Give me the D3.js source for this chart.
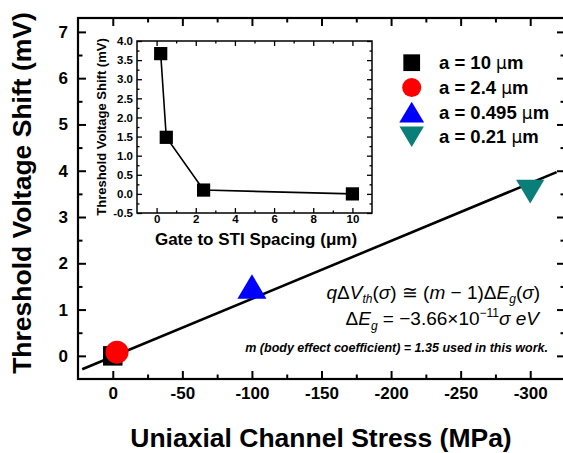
<!DOCTYPE html>
<html>
<head>
<meta charset="utf-8">
<script src="https://cdn.jsdelivr.net/npm/d3@7/dist/d3.min.js"></script>
<style>
  html, body { margin: 0; padding: 0; background: #fff; }
  svg { display: block; font-family: "Liberation Sans", Arial, Helvetica, sans-serif; }
</style>
</head>
<body>
<svg id="chart" width="563" height="453"></svg>
<script>
// ---- main plot data: threshold voltage shift vs. uniaxial channel stress ----
const seriesLabels = ["a = 10 ", "a = 2.4 ", "a = 0.495 ", "a = 0.21 "];
const seriesStress = [0, -3, -100, -300];          // MPa
const seriesShift  = [0.0, 0.08, 1.5, 3.55];        // mV
const seriesColors = ["#000000", "#ff0000", "#0000ff", "#0a7f7a"];
const seriesShapes = ["square", "circle", "triUp", "triDown"];

// linear model line (endpoints)
const fitStress = [22, -319];
const fitShift  = [-0.29, 3.97];

// main axis ticks
const xMajorTicks = [0, -50, -100, -150, -200, -250, -300];
const xMinorTicks = [-25, -75, -125, -175, -225, -275];
const yMajorTicks = [0, 1, 2, 3, 4, 5, 6, 7];
const yMinorTicks = [0.5, 1.5, 2.5, 3.5, 4.5, 5.5, 6.5];

// ---- inset data: shift vs. gate-to-STI spacing ----
const insetSpacing = [0.21, 0.495, 2.4, 10];        // um
const insetShift   = [3.67, 1.48, 0.1, 0.0];        // mV
const insetXTicks  = [0, 2, 4, 6, 8, 10];
const insetXMinor  = [1, 3, 5, 7, 9];
const insetYTicks  = [-0.5, 0, 0.5, 1, 1.5, 2, 2.5, 3, 3.5, 4];
const insetYMinor  = [-0.25, 0.25, 0.75, 1.25, 1.75, 2.25, 2.75, 3.25, 3.75];

const svg = d3.select("#chart");

// triangle symbols centred on their bounding box
const triUp = {
  draw(ctx, size) {
    const w = Math.sqrt(size * 2 / 0.84), h = w * 0.84;
    ctx.moveTo(0, -h / 2); ctx.lineTo(w / 2, h / 2); ctx.lineTo(-w / 2, h / 2); ctx.closePath();
  }
};
const triDown = {
  draw(ctx, size) {
    const w = Math.sqrt(size * 2 / 0.84), h = w * 0.84;
    ctx.moveTo(0, h / 2); ctx.lineTo(w / 2, -h / 2); ctx.lineTo(-w / 2, -h / 2); ctx.closePath();
  }
};
const shapeTypes = { square: d3.symbolSquare, circle: d3.symbolCircle, triUp: triUp, triDown: triDown };

// ---------------- main plot ----------------
const M = { left: 78, top: 18, right: 565, bottom: 379 };
const x = d3.scaleLinear().domain([25, -325]).range([M.left, M.right]);
const y = d3.scaleLinear().domain([-0.5, 7.3]).range([M.bottom, M.top]);

function ticks(g, axisFn, scale, values, size) {
  g.call(axisFn(scale).tickValues(values).tickSize(-size).tickSizeOuter(0).tickFormat(""))
   .call(s => s.select(".domain").remove())
   .selectAll("line").attr("stroke", "#000").attr("stroke-width", 2);
}

// bottom axis with labels
const gxb = svg.append("g").attr("transform", `translate(0,${M.bottom})`);
gxb.call(d3.axisBottom(x).tickValues(xMajorTicks).tickSize(-8).tickSizeOuter(0).tickPadding(8)
    .tickFormat(d => d === 0 ? "0" : d3.format("d")(d).replace("−", "-")))
  .call(s => s.select(".domain").remove());
gxb.selectAll("line").attr("stroke", "#000").attr("stroke-width", 2);
gxb.selectAll("text").attr("font-size", 17).attr("font-weight", "bold").attr("fill", "#000")
  .attr("font-family", "Liberation Sans, Arial, sans-serif");
ticks(svg.append("g").attr("transform", `translate(0,${M.bottom})`), d3.axisBottom, x, xMinorTicks, 4.5);

// left axis with labels
const gyl = svg.append("g").attr("transform", `translate(${M.left},0)`);
gyl.call(d3.axisLeft(y).tickValues(yMajorTicks).tickSize(-8).tickSizeOuter(0).tickPadding(10).tickFormat(d3.format("d")))
  .call(s => s.select(".domain").remove());
gyl.selectAll("line").attr("stroke", "#000").attr("stroke-width", 2);
gyl.selectAll("text").attr("font-size", 17).attr("font-weight", "bold").attr("fill", "#000")
  .attr("font-family", "Liberation Sans, Arial, sans-serif");
ticks(svg.append("g").attr("transform", `translate(${M.left},0)`), d3.axisLeft, y, yMinorTicks, 4.5);

// mirrored top / right ticks
ticks(svg.append("g").attr("transform", `translate(0,${M.top})`), d3.axisTop, x, xMajorTicks, 8);
ticks(svg.append("g").attr("transform", `translate(0,${M.top})`), d3.axisTop, x, xMinorTicks, 4.5);
ticks(svg.append("g").attr("transform", `translate(${M.right},0)`), d3.axisRight, y, yMajorTicks, 8);
ticks(svg.append("g").attr("transform", `translate(${M.right},0)`), d3.axisRight, y, yMinorTicks, 4.5);

// frame
svg.append("rect").attr("x", M.left).attr("y", M.top)
  .attr("width", M.right - M.left).attr("height", M.bottom - M.top)
  .attr("fill", "none").attr("stroke", "#000").attr("stroke-width", 2.2);

// axis titles
svg.append("text").attr("x", 321).attr("y", 447).attr("text-anchor", "middle")
  .attr("font-size", 26.5).attr("font-weight", "bold").text("Uniaxial Channel Stress (MPa)");
svg.append("text").attr("transform", "translate(31,193) rotate(-90)").attr("text-anchor", "middle")
  .attr("font-size", 26.5).attr("font-weight", "bold").text("Threshold Voltage Shift (mV)");

// fit line
const fitPts = fitStress.map((s, i) => [s, fitShift[i]]);
svg.append("path").datum(fitPts)
  .attr("d", d3.line().x(d => x(d[0])).y(d => y(d[1])))
  .attr("fill", "none").attr("stroke", "#000").attr("stroke-width", 2.6);

// data markers
const markerSizes = [380, 415, 355, 335];
svg.append("g").selectAll("path").data(seriesStress).join("path")
  .attr("transform", (d, i) => `translate(${x(d)},${y(seriesShift[i])})`)
  .attr("d", (d, i) => d3.symbol().type(shapeTypes[seriesShapes[i]]).size(markerSizes[i])())
  .attr("fill", (d, i) => seriesColors[i]);

// legend
const legendSizes = [280, 285, 260, 250];
const lg = svg.append("g");
seriesLabels.forEach((lab, i) => {
  const cy = 62.7 + i * 24.7;
  lg.append("path").attr("transform", `translate(411.7,${cy})`)
    .attr("d", d3.symbol().type(shapeTypes[seriesShapes[i]]).size(legendSizes[i])())
    .attr("fill", seriesColors[i]);
  const t = lg.append("text").attr("x", 439).attr("y", cy + 6.5)
    .attr("font-size", 18.5).attr("font-weight", "bold");
  t.append("tspan").text(lab);
  t.append("tspan").attr("font-weight", "normal").attr("font-family", "DejaVu Sans, sans-serif").attr("font-size", 17).text("μ");
  t.append("tspan").text("m");
});

// equations
const eq1 = svg.append("text").attr("x", 540).attr("y", 299).attr("text-anchor", "end")
  .attr("font-size", 19).attr("font-family", "Liberation Sans, Arial, sans-serif");
eq1.append("tspan").attr("font-style", "italic").text("q");
eq1.append("tspan").text("Δ");
eq1.append("tspan").attr("font-style", "italic").text("V");
eq1.append("tspan").attr("font-style", "italic").attr("font-size", 12).attr("dy", 4).text("th");
eq1.append("tspan").attr("dy", -4).text("(");
eq1.append("tspan").attr("font-style", "italic").text("σ");
eq1.append("tspan").text(") ≅ (");
eq1.append("tspan").attr("font-style", "italic").text("m");
eq1.append("tspan").text(" − 1)Δ");
eq1.append("tspan").attr("font-style", "italic").text("E");
eq1.append("tspan").attr("font-style", "italic").attr("font-size", 12).attr("dy", 4).text("g");
eq1.append("tspan").attr("dy", -4).text("(");
eq1.append("tspan").attr("font-style", "italic").text("σ");
eq1.append("tspan").text(")");

const eq2 = svg.append("text").attr("x", 539).attr("y", 325).attr("text-anchor", "end")
  .attr("font-size", 19).attr("font-family", "Liberation Sans, Arial, sans-serif");
eq2.append("tspan").text("Δ");
eq2.append("tspan").attr("font-style", "italic").text("E");
eq2.append("tspan").attr("font-style", "italic").attr("font-size", 12).attr("dy", 5).text("g");
eq2.append("tspan").attr("dy", -5).text(" = −3.66×10");
eq2.append("tspan").attr("font-size", 12).attr("dy", -8).text("−11");
eq2.append("tspan").attr("dy", 8).attr("font-style", "italic").text("σ eV");

svg.append("text").attr("x", 548).attr("y", 352).attr("text-anchor", "end")
  .attr("font-size", 12.5).attr("font-weight", "bold").attr("font-style", "italic")
  .text("m (body effect coefficient) = 1.35 used in this work.");

// ---------------- inset ----------------
const I = { left: 137, top: 41, right: 372, bottom: 213 };
const xi = d3.scaleLinear().domain([-1, 11]).range([I.left, I.right]);
const yi = d3.scaleLinear().domain([-0.5, 4.0]).range([I.bottom, I.top]);

svg.append("rect").attr("x", I.left).attr("y", I.top)
  .attr("width", I.right - I.left).attr("height", I.bottom - I.top).attr("fill", "#fff");

function iticks(g, axisFn, scale, values, size) {
  g.call(axisFn(scale).tickValues(values).tickSize(-size).tickSizeOuter(0).tickFormat(""))
   .call(s => s.select(".domain").remove())
   .selectAll("line").attr("stroke", "#000").attr("stroke-width", 1.3);
}

const gxi = svg.append("g").attr("transform", `translate(0,${I.bottom})`);
gxi.call(d3.axisBottom(xi).tickValues(insetXTicks).tickSize(-5).tickSizeOuter(0).tickPadding(2).tickFormat(d3.format("d")))
  .call(s => s.select(".domain").remove());
gxi.selectAll("line").attr("stroke", "#000").attr("stroke-width", 1.3);
gxi.selectAll("text").attr("font-size", 11.5).attr("font-weight", "bold").attr("fill", "#000")
  .attr("font-family", "Liberation Sans, Arial, sans-serif");
iticks(svg.append("g").attr("transform", `translate(0,${I.bottom})`), d3.axisBottom, xi, insetXMinor, 2.5);

const gyi = svg.append("g").attr("transform", `translate(${I.left},0)`);
gyi.call(d3.axisLeft(yi).tickValues(insetYTicks).tickSize(-5).tickSizeOuter(0).tickPadding(4)
    .tickFormat(d => d3.format(".1f")(d).replace("−", "-")))
  .call(s => s.select(".domain").remove());
gyi.selectAll("line").attr("stroke", "#000").attr("stroke-width", 1.3);
gyi.selectAll("text").attr("font-size", 11.5).attr("font-weight", "bold").attr("fill", "#000")
  .attr("font-family", "Liberation Sans, Arial, sans-serif");
iticks(svg.append("g").attr("transform", `translate(${I.left},0)`), d3.axisLeft, yi, insetYMinor, 2.5);

iticks(svg.append("g").attr("transform", `translate(0,${I.top})`), d3.axisTop, xi, insetXTicks, 5);
iticks(svg.append("g").attr("transform", `translate(0,${I.top})`), d3.axisTop, xi, insetXMinor, 2.5);
iticks(svg.append("g").attr("transform", `translate(${I.right},0)`), d3.axisRight, yi, insetYTicks, 5);
iticks(svg.append("g").attr("transform", `translate(${I.right},0)`), d3.axisRight, yi, insetYMinor, 2.5);

svg.append("rect").attr("x", I.left).attr("y", I.top)
  .attr("width", I.right - I.left).attr("height", I.bottom - I.top)
  .attr("fill", "none").attr("stroke", "#000").attr("stroke-width", 1.5);

const insetPts = insetSpacing.map((s, i) => [s, insetShift[i]]);
svg.append("path").datum(insetPts)
  .attr("d", d3.line().x(d => xi(d[0])).y(d => yi(d[1])))
  .attr("fill", "none").attr("stroke", "#000").attr("stroke-width", 1.6);
svg.append("g").selectAll("path").data(insetPts).join("path")
  .attr("transform", d => `translate(${xi(d[0])},${yi(d[1])})`)
  .attr("d", d3.symbol().type(d3.symbolSquare).size(175)())
  .attr("fill", "#000");

svg.append("text").attr("x", 256).attr("y", 245).attr("text-anchor", "middle")
  .attr("font-size", 17).attr("font-weight", "bold").text("Gate to STI Spacing (μm)");
svg.append("text").attr("transform", "translate(106,127) rotate(-90)").attr("text-anchor", "middle")
  .attr("font-size", 13).attr("font-weight", "bold").text("Threshold Voltage Shift (mV)");
</script>
</body>
</html>
